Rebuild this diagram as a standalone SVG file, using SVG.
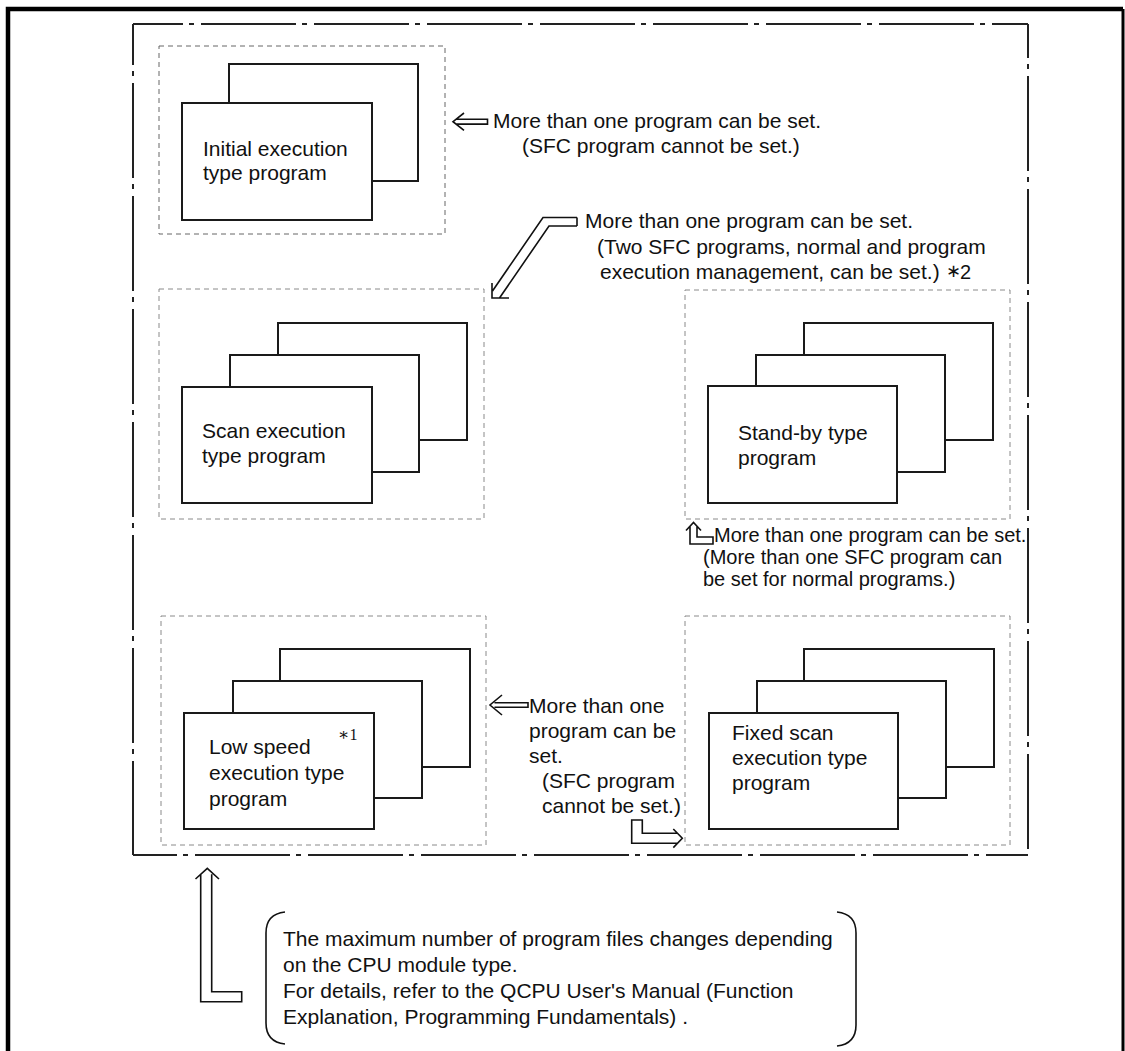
<svg xmlns="http://www.w3.org/2000/svg" width="1125" height="1051" viewBox="0 0 1125 1051">
<style>
text { font-family: "Liberation Sans", Arial, sans-serif; font-size: 21px; fill: #111; }
.sm { font-size: 20px; }
.grp { fill: none; stroke: #8a8a8a; stroke-width: 1; stroke-dasharray: 5 4; }
.dk { stroke: #666; }
.prog { fill: #fff; stroke: #1a1a1a; stroke-width: 2; }
.arr { fill: none; stroke: #111; stroke-width: 1.6; stroke-linejoin: miter; }
.dd { fill: none; stroke: #222; stroke-width: 2; stroke-dasharray: 95 6 5 7; }
</style>
<rect x="0" y="0" width="1125" height="1051" fill="#fff"/>
<g id="page-frame">
  <path d="M8,1051 V9 H1123" fill="none" stroke="#000" stroke-width="4.5"/>
  <line x1="1123" y1="9" x2="1123" y2="1051" stroke="#000" stroke-width="3"/>
</g>
<g id="cpu-frame">
  <line class="dd" x1="133" y1="24" x2="1028" y2="24" stroke-dashoffset="-68"/>
  <line class="dd" x1="133" y1="24" x2="133" y2="855" stroke-dashoffset="54"/>
  <line class="dd" x1="1028" y1="24" x2="1028" y2="855" stroke-dashoffset="61"/>
  <line class="dd" x1="133" y1="855" x2="1028" y2="855" stroke-dashoffset="51"/>
</g>
<g id="initial">
  <rect class="grp dk" x="159" y="46" width="286" height="188"/>
  <rect class="prog" x="229" y="64" width="189" height="117"/>
  <rect class="prog" x="182" y="103" width="190" height="117"/>
  <text x="203" y="156">Initial execution</text>
  <text x="203" y="180">type program</text>
</g>
<g id="scan">
  <rect class="grp" x="159" y="289" width="325" height="230"/>
  <rect class="prog" x="278" y="323" width="189" height="117"/>
  <rect class="prog" x="230" y="355" width="189" height="117"/>
  <rect class="prog" x="182" y="387" width="190" height="116"/>
  <text x="202" y="438">Scan execution</text>
  <text x="202" y="463">type program</text>
</g>
<g id="standby">
  <rect class="grp" x="685" y="290" width="325" height="229"/>
  <rect class="prog" x="804" y="323" width="189" height="117"/>
  <rect class="prog" x="756" y="355" width="189" height="117"/>
  <rect class="prog" x="708" y="386" width="189" height="117"/>
  <text x="738" y="440">Stand-by type</text>
  <text x="738" y="465">program</text>
</g>
<g id="lowspeed">
  <rect class="grp" x="161" y="616" width="325" height="229"/>
  <rect class="prog" x="280" y="649" width="190" height="118"/>
  <rect class="prog" x="233" y="681" width="189" height="117"/>
  <rect class="prog" x="184" y="713" width="190" height="116"/>
  <text x="209" y="754">Low speed</text>
  <text x="209" y="780">execution type</text>
  <text x="209" y="806">program</text>
  <text x="338" y="740" style="font-family:'DejaVu Serif','Liberation Serif',serif;font-size:17px">∗<tspan style="font-family:'Liberation Serif',serif;font-size:16px">1</tspan></text>
</g>
<g id="fixedscan">
  <rect class="grp" x="685" y="616" width="325" height="229"/>
  <rect class="prog" x="804" y="649" width="190" height="118"/>
  <rect class="prog" x="757" y="681" width="189" height="117"/>
  <rect class="prog" x="709" y="713" width="189" height="116"/>
  <text x="732" y="740">Fixed scan</text>
  <text x="732" y="765">execution type</text>
  <text x="732" y="790">program</text>
</g>
<g id="connectors">
  <path class="arr" d="M464,113 L453,121.7 L464,130.4 M456,119.3 H487.5 V124.1 H456"/>
  <path class="arr" d="M577,217.5 H543 L492.5,291 M577,226 H549 L499.5,298 M577,217.5 V226 M492,283 V298 H509"/>
  <path class="arr" d="M686,530.5 L693.5,522.5 L701,530.5 M690,526.2 V544 H713 V537 H697 V526.2"/>
  <path class="arr" d="M502,695 L490,705 L502,715 M494.5,702.7 H528 V707.3 H494.5"/>
  <path class="arr" d="M673.3,829 L682.3,838.3 L673.3,847.6 M677.5,833.3 H642.3 V820 H631.7 V843.3 H677.5"/>
  <path class="arr" d="M195.5,879 L207.3,868.3 L219,879 M200.7,874.3 V1001.7 H241.7 V991.7 H211.7 V874.3"/>
</g>
<g id="note-initial">
  <text x="493" y="128">More than one program can be set.</text>
  <text x="522" y="153">(SFC program cannot be set.)</text>
</g>
<g id="note-scan">
  <text x="585" y="228">More than one program can be set.</text>
  <text x="597" y="254">(Two SFC programs, normal and program</text>
  <text x="600" y="279">execution management, can be set.)</text>
  <text x="946" y="277" style="font-family:'DejaVu Sans',sans-serif;font-size:18px">∗</text>
  <text x="960" y="279" class="sm">2</text>
</g>
<g id="note-standby">
  <text class="sm" x="714" y="542">More than one program can be set.</text>
  <text class="sm" x="703" y="564">(More than one SFC program can</text>
  <text class="sm" x="703" y="586">be set for normal programs.)</text>
</g>
<g id="note-lowspeed">
  <text x="529" y="713">More than one</text>
  <text x="529" y="738">program can be</text>
  <text x="529" y="763">set.</text>
  <text x="542" y="788">(SFC program</text>
  <text x="542" y="813">cannot be set.)</text>
</g>
<g id="note-bottom">
  <path d="M285,912 Q266,914 266,933 V1023 Q266,1042 285,1044" fill="none" stroke="#111" stroke-width="1.6"/>
  <path d="M837,912 Q856,914 856,933 V1025 Q856,1044 837,1046" fill="none" stroke="#111" stroke-width="1.6"/>
  <text x="283" y="946">The maximum number of program files changes depending</text>
  <text x="283" y="972">on the CPU module type.</text>
  <text x="283" y="998">For details, refer to the QCPU User's Manual (Function</text>
  <text x="283" y="1024">Explanation, Programming Fundamentals) .</text>
</g>
</svg>
